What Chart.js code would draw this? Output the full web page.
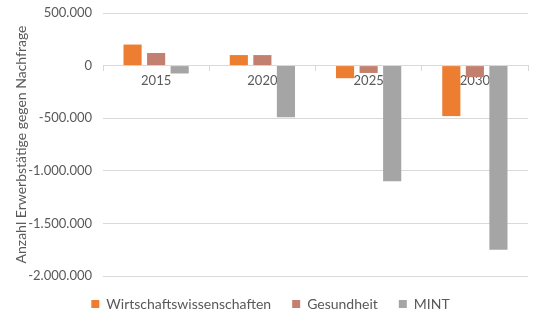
<!DOCTYPE html>
<html>
<head>
<meta charset="utf-8">
<script src="https://cdn.jsdelivr.net/npm/chart.js@4/dist/chart.umd.min.js"></script>
<style>
  html, body { margin: 0; padding: 0; background: #fff; }
  #wrap { width: 540px; height: 325px; }
</style>
</head>
<body>
<div id="wrap"><canvas id="barChart"></canvas></div>
<script>
// Jahre und Differenz Erwerbstätige gegen Nachfrage je Fachrichtung
const years = ['2015', '2020', '2025', '2030'];
const wirtschaft = [200000, 100000, -120000, -480000];
const gesundheit = [120000, 100000, -70000, -110000];
const mint = [-75000, -490000, -1100000, -1750000];
const yTicks = [500000, 0, -500000, -1000000, -1500000, -2000000];

const fmt = v => v.toLocaleString('de-DE');
Chart.defaults.font.family = 'Lato, "Open Sans", sans-serif';
Chart.defaults.color = '#595959';

const ctx = document.getElementById('barChart').getContext('2d');
new Chart(ctx, {
  type: 'bar',
  data: {
    labels: years,
    datasets: [
      { label: 'Wirtschaftswissenschaften', data: wirtschaft, backgroundColor: '#ED7D31' },
      { label: 'Gesundheit', data: gesundheit, backgroundColor: '#C4806E' },
      { label: 'MINT', data: mint, backgroundColor: '#A5A5A5' }
    ]
  },
  options: {
    responsive: true,
    maintainAspectRatio: false,
    animation: false,
    categoryPercentage: 0.665,
    barPercentage: 0.77,
    layout: { padding: { top: 13, right: 12, left: 13, bottom: 4 } },
    plugins: {
      legend: {
        position: 'bottom',
        labels: { boxWidth: 8, boxHeight: 8, padding: 21, font: { size: 14 }, color: '#595959' }
      },
      tooltip: { enabled: false }
    },
    scales: {
      x: {
        position: { y: 0 },
        z: 1,
        grid: { drawOnChartArea: false, drawTicks: true, tickLength: 5, color: '#d9d9d9' },
        border: { color: '#d9d9d9' },
        ticks: { font: { size: 13 }, color: '#595959', padding: 2 }
      },
      y: {
        min: -2000000,
        max: 500000,
        afterBuildTicks: axis => { axis.ticks = yTicks.map(v => ({ value: v })); },
        afterFit: axis => { axis.width = 90; axis.paddingTop = 0; axis.paddingBottom = 0; },
        grid: { color: '#d9d9d9', drawTicks: false },
        border: { display: false },
        ticks: { font: { size: 13 }, color: '#595959', padding: 11, callback: v => fmt(v) },
        title: { display: true, text: 'Anzahl Erwerbstätige gegen Nachfrage', font: { size: 14 }, color: '#595959', padding: { top: 0, bottom: 2 } }
      }
    }
  }
});
</script>
</body>
</html>
